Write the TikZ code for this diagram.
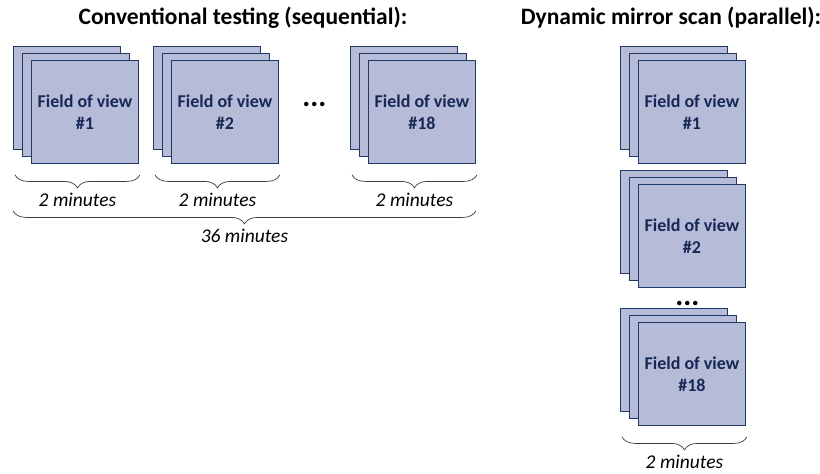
\documentclass[tikz,border=0pt]{standalone}
\usepackage{fontspec}
\setmainfont{Carlito}
\usetikzlibrary{positioning,calc,decorations.pathreplacing}

\definecolor{sheetfill}{RGB}{182,188,216}
\definecolor{sheetline}{RGB}{31,56,100}
\definecolor{sheettext}{RGB}{22,40,86}
\definecolor{bracegray}{RGB}{60,60,60}

\begin{document}
\begin{tikzpicture}[x=1pt,y=1pt,
  sheet/.style={draw=sheetline,fill=sheetfill,line width=0.9pt,minimum width=107pt,minimum height=103pt,inner sep=0pt,anchor=north west},
  fov/.style={sheet,text=sheettext,align=center,font=\fontsize{18}{22}\selectfont\bfseries},
  heading/.style={font=\fontsize{23.5}{26}\selectfont\bfseries},
  timebrace/.style={draw=bracegray,line width=0.7pt,decorate,decoration={brace,mirror,amplitude=13pt}},
  timelabel/.style={inner sep=0pt,font=\fontsize{19.5}{22}\selectfont\itshape},
  moredots/.style={inner sep=0pt,font=\fontsize{30}{30}\selectfont\bfseries}]
  \useasboundingbox (0,0) rectangle (820,-474);

  \node[heading] (convtitle) at (243,-18) {Conventional testing (sequential):};
  \node[heading] (dyntitle) at (671,-18) {Dynamic mirror scan (parallel):};

  % stacks of three sheets
  \foreach \name/\px/\py/\num in {c1/13/46/1, c2/153/46/2, c18/350/46/18, d1/620/46/1, d2/620/170/2, d18/620/308/18} {
    \node[sheet] (\name a) at (\px,-\py) {};
    \node[sheet] (\name b) at ([shift={(9pt,-7pt)}]\name a.north west) {};
    \node[fov] (\name) at ([shift={(9pt,-7pt)}]\name b.north west) {Field of view\\\#\num};
  }

  \node[moredots] (convdots) at ($(c2.east)!0.5!(c18a.west)$) {...};
  \node[moredots] (dyndots) at ($(d2.south)!0.5!(d18b.north)+(0,-2)$) {...};

  % time per field of view
  \foreach \name in {c1,c2,c18,d18}
    \draw[timebrace] ([xshift=-16pt,yshift=-11pt]\name.south west) -- ([xshift=1pt,yshift=-11pt]\name.south east)
      node[timelabel,midway,below=18pt] {2 minutes};

  \draw[timebrace] ([xshift=-18pt,yshift=-47pt]c1.south west) -- ([yshift=-47pt]c18.south east)
    node[timelabel,midway,below=18pt] (total) {36 minutes};
\end{tikzpicture}
\end{document}
